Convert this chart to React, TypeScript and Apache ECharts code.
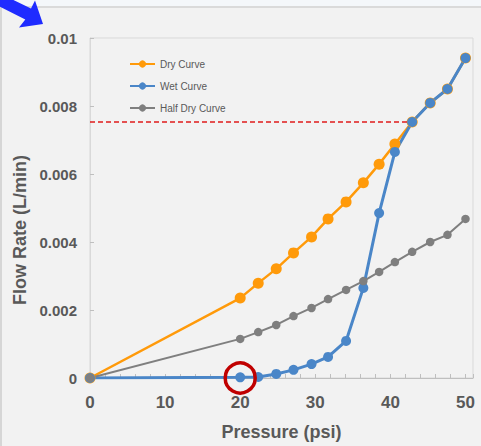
import React, { useEffect, useRef } from "react";
import * as echarts from "echarts";

const pressures = [0, 20, 22.4, 24.8, 27.1, 29.5, 31.7, 34.1, 36.4, 38.5, 40.6, 42.9, 45.3, 47.6, 50];
const dryCurve = [0, 0.00235, 0.00279, 0.00321, 0.00368, 0.00415, 0.00468, 0.00518, 0.00574, 0.00629, 0.00688, 0.00753, 0.00809, 0.0085, 0.00941];
const wetCurve = [0, 0.00002, 0.00003, 0.00012, 0.00024, 0.00041, 0.00062, 0.00109, 0.00265, 0.00485, 0.00665, 0.00753, 0.00809, 0.0085, 0.00941];
const halfDryCurve = [0, 0.00115, 0.00135, 0.00156, 0.00182, 0.00206, 0.00232, 0.00259, 0.00285, 0.00312, 0.00341, 0.00371, 0.004, 0.00421, 0.00468];
const seriesNames = ["Dry Curve", "Wet Curve", "Half Dry Curve"];
const bubblePointLevel = 0.00753;
const bubblePointEnd = 42.3;
const highlightPoint = [20, 0];

const FONT = "'Liberation Sans', Arial, sans-serif";
const TEXT = "#595959";

function pairs(xs: number[], ys: number[]) {
  return xs.map((x, i) => [x, ys[i]]);
}

export default function App() {
  const ref = useRef<HTMLDivElement>(null);
  useEffect(() => {
    if (!ref.current) return;
    const chart = echarts.init(ref.current, null, { renderer: "svg" });
    const option: any = {
      animation: false,
      backgroundColor: "#f2f2f2",
      textStyle: { fontFamily: FONT },
      grid: {
        left: 90,
        top: 38,
        right: 8,
        bottom: 68,
        show: true,
        borderColor: "#d9d9d9",
        borderWidth: 1,
        backgroundColor: "transparent",
      },
      legend: {
        orient: "vertical",
        left: 124,
        top: 54,
        itemWidth: 25,
        itemHeight: 9,
        itemGap: 12,
        data: seriesNames,
        textStyle: { color: TEXT, fontSize: 10, fontFamily: FONT },
      },
      xAxis: {
        type: "value",
        min: 0,
        max: 51,
        interval: 10,
        name: "Pressure (psi)",
        nameLocation: "middle",
        nameGap: 45,
        nameTextStyle: { color: TEXT, fontSize: 18, fontWeight: "bold", fontFamily: FONT },
        axisLine: { show: true, lineStyle: { color: "#bfbfbf", width: 1 } },
        axisTick: { show: true, inside: true, length: 4, lineStyle: { color: "#bfbfbf" } },
        minorTick: { show: true, splitNumber: 5, length: 4, lineStyle: { color: "#bfbfbf" } },
        splitLine: { show: false },
        axisLabel: {
          color: TEXT,
          fontSize: 17,
          fontWeight: "bold",
          margin: 16,
          showMaxLabel: false,
          formatter: (v: number) => (v % 10 === 0 ? String(v) : ""),
        },
      },
      yAxis: {
        type: "value",
        min: 0,
        max: 0.01,
        interval: 0.002,
        axisLine: { show: true, lineStyle: { color: "#d9d9d9", width: 1 } },
        axisTick: { show: true, inside: true, length: 4, lineStyle: { color: "#bfbfbf" } },
        splitLine: { show: false },
        axisLabel: {
          color: TEXT,
          fontSize: 15,
          fontWeight: "bold",
          margin: 13,
          formatter: (v: number) => (v === 0 ? "0" : String(+v.toFixed(3))),
        },
      },
      graphic: [
        { type: "rect", shape: { x: 0, y: 0, width: 481, height: 7 }, style: { fill: "#f4f7fa" }, z: 0 },
        { type: "rect", shape: { x: 0, y: 6, width: 481, height: 2 }, style: { fill: "#dadada" }, z: 0 },
        { type: "rect", shape: { x: 0, y: 7, width: 2, height: 439 }, style: { fill: "#d6d6d6" }, z: 0 },
        {
          type: "polygon",
          shape: {
            points: [
              [-7, -10],
              [31, 8.6],
              [35, 0.6],
              [43, 24],
              [19, 27.4],
              [25.3, 19.4],
              [-13, 0.4],
            ],
          },
          style: { fill: "#1f2bff" },
          z: 10,
        },
        {
          type: "text",
          x: 20,
          y: 230,
          rotation: Math.PI / 2,
          style: {
            text: "Flow Rate (L/min)",
            fill: TEXT,
            font: `bold 18px ${FONT}`,
            align: "center",
            verticalAlign: "middle",
          },
        },
      ],
      series: [
        {
          name: seriesNames[0],
          type: "line",
          data: pairs(pressures, dryCurve),
          color: "#ff9a0a",
          lineStyle: { width: 2.5, color: "#ff9a0a" },
          symbol: "circle",
          symbolSize: 11,
          itemStyle: { color: "#ff9a0a" },
        },
        {
          name: seriesNames[1],
          type: "line",
          data: pairs(pressures, wetCurve),
          color: "#4a86c8",
          lineStyle: { width: 3, color: "#4a86c8" },
          symbol: "circle",
          symbolSize: 10,
          itemStyle: { color: "#4a86c8" },
          markLine: {
            silent: true,
            symbol: "none",
            label: { show: false },
            lineStyle: { color: "#e01b1b", width: 1.5, type: [5, 3] },
            data: [[{ coord: [0, bubblePointLevel] }, { coord: [bubblePointEnd, bubblePointLevel] }]],
          },
          markPoint: {
            silent: true,
            symbol: "circle",
            symbolSize: 30,
            label: { show: false },
            itemStyle: { color: "rgba(0,0,0,0)", borderColor: "#c00000", borderWidth: 3.5 },
            data: [{ coord: highlightPoint }],
          },
        },
        {
          name: seriesNames[2],
          type: "line",
          data: pairs(pressures, halfDryCurve),
          color: "#7f7f7f",
          lineStyle: { width: 2, color: "#7f7f7f" },
          symbol: "circle",
          symbolSize: 8.5,
          itemStyle: { color: "#7f7f7f" },
        },
      ],
    };
    chart.setOption(option);
    return () => chart.dispose();
  }, []);
  return (
    <div
      ref={ref}
      style={{ position: "absolute", left: 0, top: 0, width: 481, height: 446 }}
    />
  );
}
